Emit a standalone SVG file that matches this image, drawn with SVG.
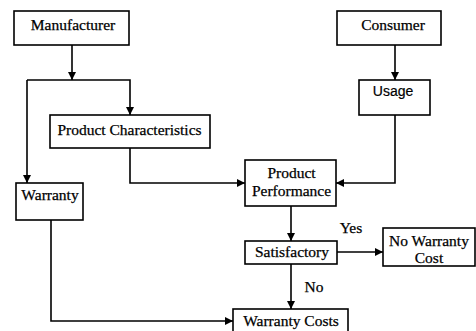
<svg xmlns="http://www.w3.org/2000/svg" width="476" height="331" viewBox="0 0 476 331">
<defs>
<marker id="ah" viewBox="0 0 10 10" refX="10" refY="5" markerWidth="8" markerHeight="8" markerUnits="userSpaceOnUse" orient="auto">
<path d="M0,0 L10,5 L0,10 z" fill="#000"/>
</marker>
</defs>
<style>
.box{fill:#fff;stroke:#000;stroke-width:1.6}
.t{font-family:'Liberation Serif','Times New Roman',serif;font-size:15.5px;fill:#000;stroke:#000;stroke-width:0.25;text-anchor:middle}
.s{font-family:'Liberation Sans',Arial,sans-serif;font-size:14px;fill:#000;stroke:#000;stroke-width:0.2;text-anchor:middle}
.c{fill:none;stroke:#000;stroke-width:1.6}
</style>
<rect width="476" height="331" fill="#fff"/>
<g id="connectors">
<line class="c" x1="72" y1="45" x2="72" y2="80" marker-end="url(#ah)"/>
<polyline class="c" points="27,80 130,80 130,115" marker-end="url(#ah)"/>
<polyline class="c" points="27,80 27,183" marker-end="url(#ah)"/>
<line class="c" x1="395" y1="45" x2="395" y2="80" marker-end="url(#ah)"/>
<polyline class="c" points="395,115 395,183 336,183" marker-end="url(#ah)"/>
<polyline class="c" points="130,148 130,183 245,183" marker-end="url(#ah)"/>
<line class="c" x1="291" y1="206" x2="291" y2="241" marker-end="url(#ah)"/>
<line class="c" x1="337" y1="252" x2="383" y2="252" marker-end="url(#ah)"/>
<line class="c" x1="291" y1="264" x2="291" y2="309" marker-end="url(#ah)"/>
<polyline class="c" points="51,220 51,321 233,321" marker-end="url(#ah)"/>
<text class="t" x="351" y="233">Yes</text>
<text class="t" x="314" y="291.5">No</text>
</g>
<g id="manufacturer"><rect class="box" x="14" y="11" width="115" height="34"/><text class="t" x="73" y="30">Manufacturer</text></g>
<g id="consumer"><rect class="box" x="337" y="11" width="104" height="34"/><text class="t" x="393" y="29.5">Consumer</text></g>
<g id="usage"><rect class="box" x="359" y="80" width="71" height="35"/><text class="s" x="393" y="96">Usage</text></g>
<g id="product-characteristics"><rect class="box" x="50" y="115" width="160" height="33"/><text class="t" x="129.5" y="135">Product Characteristics</text></g>
<g id="warranty"><rect class="box" x="16" y="183" width="67" height="37"/><text class="t" x="50" y="200">Warranty</text></g>
<g id="product-performance"><rect class="box" x="245" y="160" width="91" height="46"/><text class="t" x="291.5" y="177.5">Product</text><text class="t" x="291.5" y="195.5">Performance</text></g>
<g id="satisfactory"><rect class="box" x="245" y="241" width="92" height="23"/><text class="t" x="292" y="257">Satisfactory</text></g>
<g id="no-warranty-cost"><rect class="box" x="383" y="228" width="92" height="38"/><text class="t" x="429" y="245.5">No Warranty</text><text class="t" x="429" y="263">Cost</text></g>
<g id="warranty-costs"><rect class="box" x="233" y="309" width="115" height="30"/><text class="t" x="291" y="326">Warranty Costs</text></g>
</svg>
